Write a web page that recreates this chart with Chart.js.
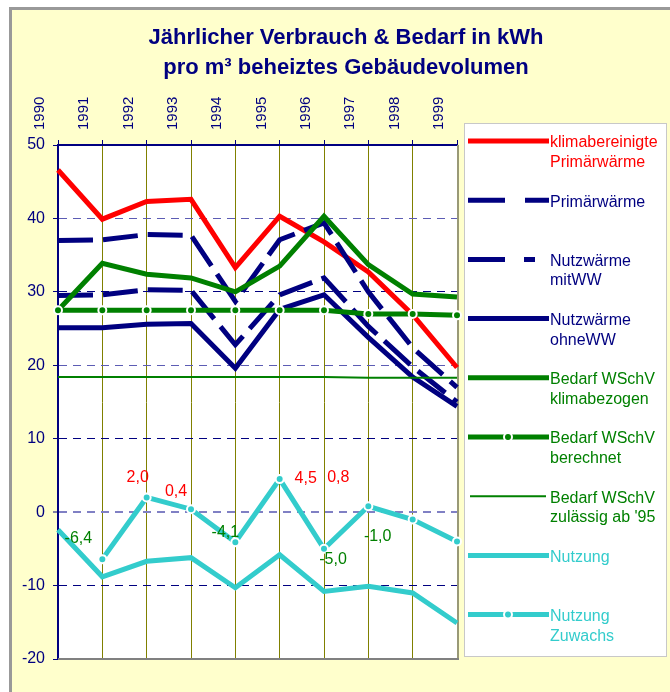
<!DOCTYPE html>
<html>
<head>
<meta charset="utf-8">
<script src="https://cdn.jsdelivr.net/npm/chart.js@4"></script>
<style>
  body { margin: 0; background: #fff; }
</style>
</head>
<body>
<canvas id="verbrauchChart" width="670" height="692"></canvas>
<script>
// Jahre (x-Achse)
const years = ['1990', '1991', '1992', '1993', '1994', '1995', '1996', '1997', '1998', '1999'];

// Werte in kWh pro m³
const klimaPrimaerwaerme = [46.6, 39.9, 42.3, 42.6, 33.3, 40.3, 36.8, 32.7, 26.9, 19.7];
const primaerwaerme = [37.0, 37.1, 37.8, 37.7, 28.7, 37.1, 39.4, 30.0, 22.4, 17.0];
const nutzwaermeMitWW = [29.5, 29.6, 30.3, 30.2, 22.8, 29.6, 31.9, 25.3, 19.8, 15.0];
const nutzwaermeOhneWW = [25.1, 25.1, 25.6, 25.7, 19.6, 27.6, 29.6, 23.8, 18.4, 14.4];
const bedarfKlimabezogen = [27.5, 33.9, 32.4, 31.9, 30.0, 33.5, 40.3, 33.7, 29.7, 29.3];
const bedarfBerechnet = [27.5, 27.5, 27.5, 27.5, 27.5, 27.5, 27.5, 27.0, 27.0, 26.8];
const bedarfZulaessig = [18.4, 18.4, 18.4, 18.4, 18.4, 18.4, 18.4, 18.3, 18.3, 18.3];
const nutzung = [-2.4, -8.8, -6.7, -6.2, -10.3, -5.8, -10.8, -10.1, -11.0, -15.1];
const nutzungZuwachs = [null, -6.4, 2.0, 0.4, -4.1, 4.5, -5.0, 0.8, -1.0, -4.0];

// y-Achse
const yMin = -20;
const yMax = 50;
const yStep = 10;

// where the Zuwachs value labels sit relative to their point (null = no label)
const labelOffsets = [null, [-24, -21], [-9, -20], [-15, -18], [-10, -10], [26, -1], [9, 11], [-30, -29], [-35, 17], null];

const NAVY = '#000080';
const RED = '#ff0000';
const GREEN = '#008000';
const CYAN = '#33cccc';
const OLIVE = '#808000';
const FONT = '"Liberation Sans", Arial, sans-serif';

// background, frame and title
const backgroundPlugin = {
  id: 'background',
  beforeDraw(chart) {
    const c = chart.ctx;
    const a = chart.chartArea;
    c.save();
    c.fillStyle = '#ffffff';
    c.fillRect(0, 0, chart.width, chart.height);
    c.fillStyle = '#999999';
    c.fillRect(9, 7, chart.width - 9, chart.height - 7);
    c.fillStyle = '#ffffcc';
    c.fillRect(12, 10, chart.width - 12, chart.height - 10);
    c.fillStyle = '#ffffff';
    c.fillRect(a.left, a.top, a.right - a.left, a.bottom - a.top);

    // title
    c.fillStyle = NAVY;
    c.font = 'bold 22px ' + FONT;
    c.textAlign = 'center';
    c.textBaseline = 'middle';
    c.fillText('Jährlicher Verbrauch & Bedarf in kWh', 346, 38);
    c.fillText('pro m³ beheiztes Gebäudevolumen', 346, 68);
    c.restore();
  },
  beforeDatasetsDraw(chart) {
    const c = chart.ctx;
    const a = chart.chartArea;
    c.save();
    c.strokeStyle = '#999977';
    c.lineWidth = 2;
    c.beginPath();
    c.moveTo(a.right + 1, a.top);
    c.lineTo(a.right + 1, a.bottom);
    c.stroke();
    c.strokeStyle = '#808080';
    c.beginPath();
    c.moveTo(a.left, a.bottom);
    c.lineTo(a.right + 2, a.bottom);
    c.stroke();
    c.restore();
  }
};

// Zahlenwerte an der Zuwachs-Linie
const zuwachsLabelPlugin = {
  id: 'zuwachsLabels',
  afterDatasetsDraw(chart) {
    const c = chart.ctx;
    const idx = chart.data.datasets.findIndex(d => d.showValues);
    const meta = chart.getDatasetMeta(idx);
    const values = chart.data.datasets[idx].data;
    c.save();
    c.font = '16px ' + FONT;
    c.textAlign = 'center';
    c.textBaseline = 'middle';
    meta.data.forEach((pt, i) => {
      const off = labelOffsets[i];
      if (!off || values[i] === null) return;
      c.fillStyle = values[i] >= 0 ? RED : GREEN;
      c.fillText(values[i].toFixed(1).replace('.', ','), pt.x + off[0], pt.y + off[1]);
    });
    c.restore();
  }
};

// legend box on the right, drawn by hand because of the two-line labels
const legendPlugin = {
  id: 'sideLegend',
  afterDraw(chart) {
    const c = chart.ctx;
    c.save();
    c.fillStyle = '#ffffff';
    c.fillRect(464, 123, 203, 534);
    c.strokeStyle = '#c8c8c8';
    c.lineWidth = 1;
    c.strokeRect(464.5, 123.5, 202, 533);

    c.font = '16px ' + FONT;
    c.textBaseline = 'middle';
    c.textAlign = 'left';
    chart.data.datasets.forEach((ds, i) => {
      const y = 141 + i * 59.2;
      c.strokeStyle = ds.borderColor;
      c.lineWidth = ds.borderWidth;
      c.setLineDash(ds.legendDash || []);
      c.beginPath();
      c.moveTo(ds.borderWidth > 2 ? 468 : 470, y);
      c.lineTo(ds.borderWidth > 2 ? 549 : 546, y);
      c.stroke();
      c.setLineDash([]);
      if (ds.pointRadius > 0) {
        c.beginPath();
        c.arc(508, y, ds.pointRadius, 0, Math.PI * 2);
        c.fillStyle = ds.pointBackgroundColor;
        c.fill();
        c.lineWidth = ds.pointBorderWidth;
        c.strokeStyle = ds.pointBorderColor;
        c.stroke();
      }
      c.fillStyle = ds.borderColor;
      ds.label.split('\n').forEach((line, j) => {
        c.fillText(line, 550, y + 2 + j * 19.5);
      });
    });
    c.restore();
  }
};

const ctx = document.getElementById('verbrauchChart');

const chart = new Chart(ctx, {
  type: 'line',
  data: {
    labels: years,
    datasets: [
      { label: 'klimabereinigte\nPrimärwärme', data: klimaPrimaerwaerme, borderColor: RED, borderWidth: 5, pointRadius: 0 },
      { label: 'Primärwärme', data: primaerwaerme, borderColor: NAVY, borderWidth: 5, pointRadius: 0,
        borderDash: [35, 10], legendDash: [37, 20] },
      { label: 'Nutzwärme\nmitWW', data: nutzwaermeMitWW, borderColor: NAVY, borderWidth: 5, pointRadius: 0,
        borderDash: [35, 10], legendDash: [37, 19, 11, 100] },
      { label: 'Nutzwärme\nohneWW', data: nutzwaermeOhneWW, borderColor: NAVY, borderWidth: 5, pointRadius: 0 },
      { label: 'Bedarf WSchV\nklimabezogen', data: bedarfKlimabezogen, borderColor: GREEN, borderWidth: 5, pointRadius: 0 },
      { label: 'Bedarf WSchV\nberechnet', data: bedarfBerechnet, borderColor: GREEN, borderWidth: 5,
        pointRadius: 4, pointBackgroundColor: GREEN, pointBorderColor: '#ffffff', pointBorderWidth: 2 },
      { label: 'Bedarf WSchV\nzulässig ab \'95', data: bedarfZulaessig, borderColor: GREEN, borderWidth: 2, pointRadius: 0 },
      { label: 'Nutzung', data: nutzung, borderColor: CYAN, borderWidth: 5, pointRadius: 0 },
      { label: 'Nutzung\nZuwachs', data: nutzungZuwachs, borderColor: CYAN, borderWidth: 5, showValues: true,
        pointRadius: 4, pointBackgroundColor: CYAN, pointBorderColor: '#ffffff', pointBorderWidth: 2 }
    ].map((ds, i) => Object.assign(ds, { order: 10 - i, tension: 0, fill: false, pointHoverRadius: 0 }))
  },
  options: {
    responsive: false,
    animation: false,
    layout: { padding: { left: 0, top: 0, right: 213, bottom: 33 } },
    plugins: {
      legend: { display: false },
      title: { display: false },
      tooltip: { enabled: false }
    },
    scales: {
      x: {
        position: 'top',
        offset: false,
        afterFit: s => { s.height = 145; },
        grid: {
          color: OLIVE,
          lineWidth: 1,
          tickColor: NAVY,
          tickLength: 5
        },
        border: { color: NAVY, width: 2 },
        ticks: {
          color: NAVY,
          font: { family: FONT, size: 15 },
          minRotation: 90,
          maxRotation: 90,
          autoSkip: false,
          padding: 10
        }
      },
      y: {
        min: yMin,
        max: yMax,
        afterFit: s => { s.width = 58; },
        grid: {
          color: c => {
            const v = c.tick.value;
            if (v === yMin || v === yMax) return 'rgba(0,0,0,0)';
            if (v === 0) return '#8080c4';
            if (v === 40 || v === 20) return '#5c5cb4';
            return NAVY;
          },
          lineWidth: c => (c.tick.value === 0 ? 2 : 1),
          tickColor: NAVY,
          tickLength: 5,
          tickWidth: 1
        },
        border: { color: NAVY, width: 2, dash: [8, 6] },
        ticks: {
          stepSize: yStep,
          color: NAVY,
          font: { family: FONT, size: 16 },
          padding: 8
        }
      }
    }
  },
  plugins: [backgroundPlugin, zuwachsLabelPlugin, legendPlugin]
});
</script>
</body>
</html>
